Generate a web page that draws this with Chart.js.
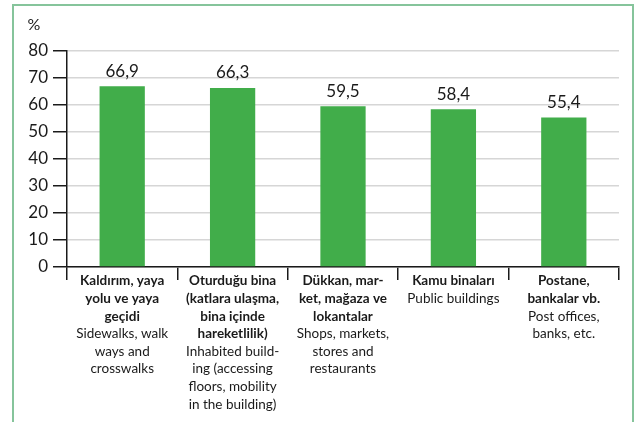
<!DOCTYPE html>
<html>
<head>
<meta charset="utf-8">
<script src="https://cdn.jsdelivr.net/npm/chart.js@4/dist/chart.umd.min.js"></script>
<style>
	body { margin: 0; background: #fff; }
	.frame {
		position: absolute; left: 12px; top: 4px; width: 618px; height: 440px;
		border: 2px solid #86c49b; border-bottom: none;
	}
	.wrap { position: absolute; left: 0; top: 0; width: 639px; height: 422px; overflow: hidden; }
	canvas { position: absolute; left: 0; top: 0; }
</style>
</head>
<body>
<div class="wrap">
	<div class="frame"></div>
	<canvas id="barChart" width="639" height="422"></canvas>
</div>
<script>
// categories: bold Turkish lines, then English lines
var titlesTr = [
	['Kaldırım, yaya', 'yolu ve yaya', 'geçidi'],
	['Oturduğu bina', '(katlara ulaşma,', 'bina içinde', 'hareketlilik)'],
	['Dükkan, mar-', 'ket, mağaza ve', 'lokantalar'],
	['Kamu binaları'],
	['Postane,', 'bankalar vb.']
];
var titlesEn = [
	['Sidewalks, walk', 'ways and', 'crosswalks'],
	['Inhabited build-', 'ing (accessing', 'floors, mobility', 'in the building)'],
	['Shops, markets,', 'stores and', 'restaurants'],
	['Public buildings'],
	['Post offices,', 'banks, etc.']
];
var values = [66.9, 66.3, 59.5, 58.4, 55.4];
var yTicks = [0, 10, 20, 30, 40, 50, 60, 70, 80];

var FONT = 'Lato, "Open Sans", sans-serif';

var labelsPlugin = {
	id: 'labels',
	afterDatasetsDraw: function (chart) {
		var ctx = chart.ctx;
		var x = chart.scales.x;
		var y = chart.scales.y;
		ctx.save();
		ctx.fillStyle = '#1a1a1a';
		ctx.textAlign = 'center';
		ctx.textBaseline = 'middle';

		// values above bars
		ctx.font = '17px ' + FONT;
		values.forEach(function (v, i) {
			ctx.fillText(v.toFixed(1).replace('.', ','), x.getPixelForValue(i), y.getPixelForValue(v) - 15);
		});

		// category labels below axis
		var lh = 17.6;
		values.forEach(function (v, i) {
			var cx = x.getPixelForValue(i);
			var ty = y.bottom + 14;
			ctx.font = 'bold 13.5px ' + FONT;
			titlesTr[i].forEach(function (t) {
				ctx.fillText(t, cx, ty);
				ty += lh;
			});
			ctx.font = '13.5px ' + FONT;
			titlesEn[i].forEach(function (t) {
				ctx.fillText(t, cx, ty);
				ty += lh;
			});
		});

		// unit
		ctx.font = '16px ' + FONT;
		ctx.fillText('%', 34, 25);
		ctx.restore();
	}
};

var ctx = document.getElementById('barChart');
var chart = new Chart(ctx, {
	type: 'bar',
	data: {
		labels: titlesTr.map(function (t) { return t[0]; }),
		datasets: [
			{
				data: values,
				backgroundColor: '#41ad4a',
				barPercentage: 0.41,
				categoryPercentage: 1,
			},
		],
	},
	options: {
		responsive: false,
		animation: false,
		layout: {
			padding: { top: 51, right: 20, bottom: 140, left: 0 },
		},
		plugins: {
			legend: { display: false },
			tooltip: { enabled: false },
		},
		scales: {
			x: {
				grid: {
					offset: true,
					drawOnChartArea: false,
					tickColor: '#1a1a1a',
					tickLength: 13,
					lineWidth: 1.5,
				},
				border: { color: '#1a1a1a', width: 1.5 },
				ticks: { display: false },
				afterFit: function (scale) { scale.height = 15; },
			},
			y: {
				min: 0,
				max: 80,
				afterBuildTicks: function (scale) {
					scale.ticks = yTicks.map(function (v) { return { value: v }; });
				},
				grid: {
					color: '#d6d6d6',
					lineWidth: 1.5,
					tickColor: '#1a1a1a',
					tickLength: 14,
				},
				border: { color: '#1a1a1a', width: 1.5 },
				ticks: {
					color: '#1a1a1a',
					padding: 5,
					font: { family: FONT, size: 17 },
				},
				afterFit: function (scale) { scale.width = 67; },
			},
		},
	},
	plugins: [labelsPlugin],
});
</script>
</body>
</html>
